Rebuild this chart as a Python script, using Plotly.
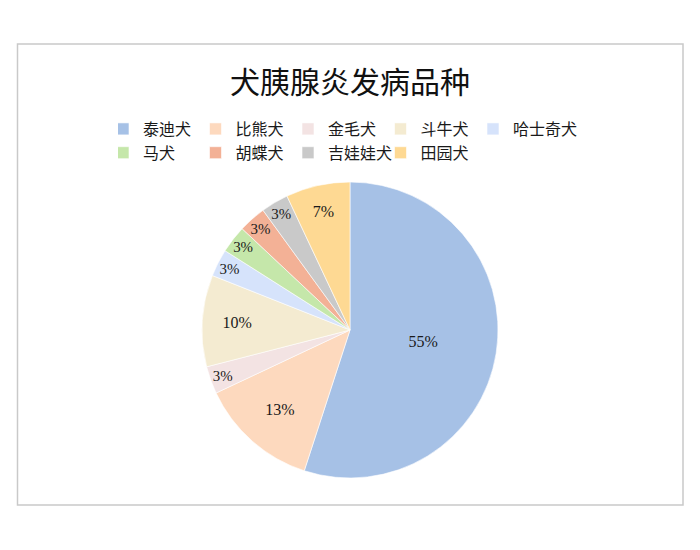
import plotly.graph_objects as go

categories = ["泰迪犬", "比熊犬", "金毛犬", "斗牛犬", "哈士奇犬", "马犬", "胡蝶犬", "吉娃娃犬", "田园犬"]
values = [55, 13, 3, 10, 3, 3, 3, 3, 7]
colors = ["#a6c1e6", "#fdd9be", "#f3e3e3", "#f4ebd1", "#d6e3fb", "#c5e7aa", "#f3b196", "#c9c9c9", "#fed993"]
title_text = "犬胰腺炎发病品种"

W, H = 700, 550
ML, MR = 110, 110
PW = W - ML - MR


def px_x(p):
    return (p - ML) / PW


def px_y(p):
    return 1 - p / H


fig = go.Figure(go.Pie(
    labels=categories,
    values=values,
    sort=False,
    direction="clockwise",
    rotation=0,
    marker=dict(colors=colors, line=dict(color="#ffffff", width=0.6)),
    textinfo="percent",
    texttemplate="%{percent:.0%}",
    textposition="inside",
    insidetextorientation="horizontal",
    textfont=dict(family="Liberation Serif, Noto Sans CJK SC", size=16, color="#1a1a1a"),
    domain=dict(x=[px_x(202), px_x(498)], y=[px_y(478), px_y(182)]),
    hoverinfo="label+percent",
))

fig.update_layout(
    width=W, height=H,
    margin=dict(l=ML, r=MR, t=0, b=0),
    paper_bgcolor="white",
    plot_bgcolor="white",
    font=dict(family="Noto Sans CJK SC", color="#1a1a1a"),
    title=dict(text=title_text, x=0.5, xanchor="center", y=px_y(82), yanchor="middle",
               font=dict(family="Noto Sans CJK SC", size=30, color="#111111")),
    legend=dict(
        orientation="h",
        x=px_x(118), xanchor="left",
        y=px_y(112), yanchor="top",
        font=dict(family="Noto Sans CJK SC", size=16, color="#1a1a1a"),
        entrywidth=62.5,
        entrywidthmode="pixels",
        indentation=-15,
        traceorder="normal",
        bgcolor="rgba(0,0,0,0)",
    ),
    shapes=[dict(type="rect", xref="paper", yref="paper",
                 x0=px_x(17.5), x1=px_x(683), y0=px_y(505), y1=px_y(44),
                 line=dict(color="#c9c9c9", width=1.5), fillcolor="rgba(0,0,0,0)", layer="below")],
)

fig.write_html("out.html")
